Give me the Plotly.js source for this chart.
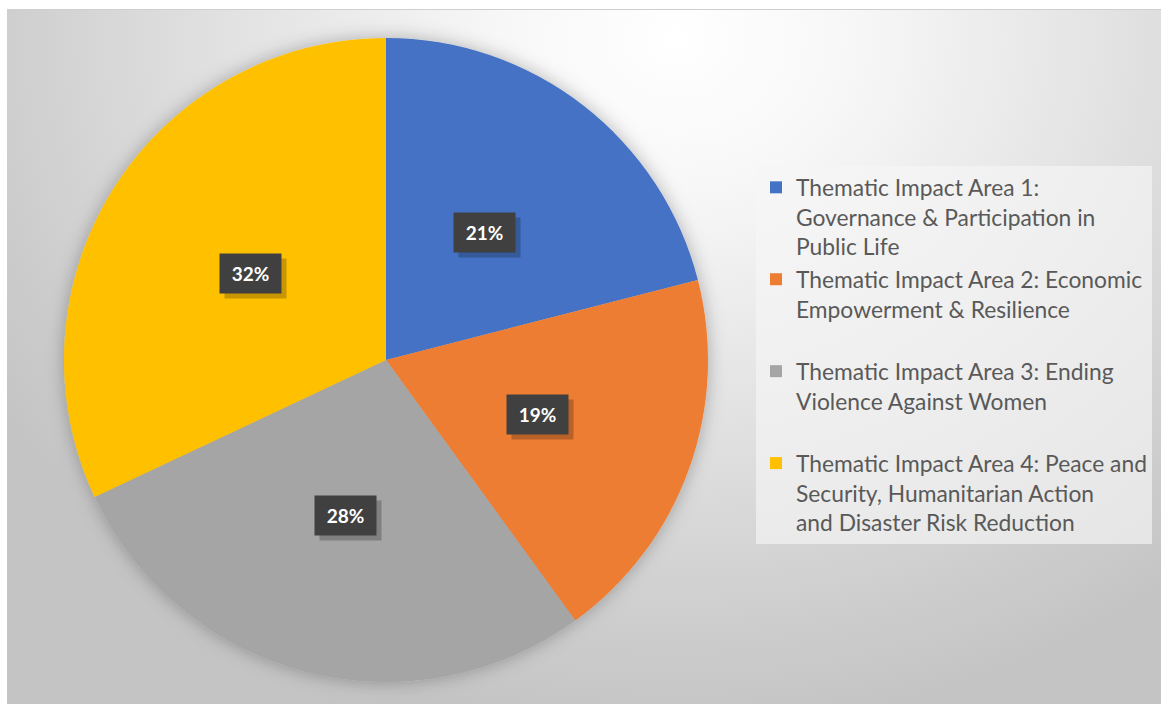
<!DOCTYPE html>
<html>
<head>
<meta charset="utf-8">
<script src="https://cdn.plot.ly/plotly-3.0.1.min.js"></script>
<style>
  html, body { margin: 0; padding: 0; background: #ffffff; }
  #wrap {
    position: absolute; left: 7px; top: 9px; width: 1154px; height: 695px;
    background: radial-gradient(ellipse 70% 100% at 58% 4%, #ffffff 0%, #f7f7f7 22%, #e2e2e2 55%, #cdcdcd 85%, #c4c4c4 100%);
    border-top: 1px solid #cfcfcf;
    box-sizing: border-box;
  }
  #chart { width: 1154px; height: 694px; }
</style>
</head>
<body>
<div id="wrap"><div id="chart"></div></div>
<script>
// ---- data ----
const categories = [
  "Thematic Impact Area 1:<br>Governance & Participation in<br>Public Life",
  "Thematic Impact Area 2: Economic<br>Empowerment & Resilience<br> ",
  "Thematic Impact Area 3: Ending<br>Violence Against Women<br> ",
  "Thematic Impact Area 4: Peace and<br>Security, Humanitarian Action<br>and Disaster Risk Reduction"
];
const shares = [21, 19, 28, 32];
const sliceColors = ["#4472C4", "#ED7D31", "#A5A5A5", "#FFC000"];
const pctLabels = ["21%", "19%", "28%", "32%"];

// ---- layout constants ----
const W = 1154, H = 694;
const M = {l: 0, r: 0, t: 28, b: 22};
const plotW = W - M.l - M.r, plotH = H - M.t - M.b;
const domX = [57 / plotW, 701 / plotW];
const R = Math.min((domX[1] - domX[0]) * plotW, plotH) / 2;
const cx = (domX[0] + domX[1]) / 2, cy = 0.5;

const total = shares.reduce((a, b) => a + b, 0);
const annotations = [];
let cum = 0;
shares.forEach((v, i) => {
  const mid = 2 * Math.PI * (cum + v / 2) / total;
  cum += v;
  const xs = 0.5 * R * Math.sin(mid);
  const ys = 0.5 * R * Math.cos(mid);
  // shadow box
  annotations.push({
    x: cx, y: cy, xref: "paper", yref: "paper", showarrow: false,
    xanchor: "center", yanchor: "middle",
    xshift: xs + 5, yshift: ys - 5,
    text: " ", width: 61, height: 39, borderpad: 0,
    bgcolor: "rgba(0,0,0,0.22)"
  });
  annotations.push({
    x: cx, y: cy, xref: "paper", yref: "paper", showarrow: false,
    xanchor: "center", yanchor: "middle",
    xshift: xs, yshift: ys,
    text: "<b>" + pctLabels[i] + "</b>", width: 61, height: 39, borderpad: 0,
    bgcolor: "#404040",
    font: {family: "Lato, 'Open Sans', sans-serif", size: 19, color: "#ffffff"}
  });
});

const trace = {
  type: "pie",
  labels: categories,
  values: shares,
  sort: false,
  direction: "clockwise",
  rotation: 0,
  marker: {colors: sliceColors, line: {width: 0}},
  textinfo: "none",
  hoverinfo: "label+percent",
  domain: {x: domX, y: [0, 1]}
};

const layout = {
  width: W, height: H,
  margin: M,
  paper_bgcolor: "rgba(0,0,0,0)",
  plot_bgcolor: "rgba(0,0,0,0)",
  showlegend: true,
  legend: {
    x: (756 - 7) / plotW, xanchor: "left",
    y: 1 - (165 - 9 - M.t) / plotH, yanchor: "top",
    bgcolor: "rgba(246,246,246,0.65)",
    font: {family: "Lato, 'Open Sans', sans-serif", size: 22.8, color: "#595959"},
    valign: "top",
    traceorder: "normal"
  },
  annotations: annotations
};

Plotly.newPlot("chart", [trace], layout, {displayModeBar: false, staticPlot: true}).then(gd => {
  const ns = "http://www.w3.org/2000/svg";
  const svg = gd.querySelector("svg.main-svg");
  let defs = svg.querySelector("defs");
  if (!defs) { defs = document.createElementNS(ns, "defs"); svg.insertBefore(defs, svg.firstChild); }
  const f = document.createElementNS(ns, "filter");
  f.setAttribute("id", "pieGlow");
  f.setAttribute("x", "-20%"); f.setAttribute("y", "-20%");
  f.setAttribute("width", "140%"); f.setAttribute("height", "140%");
  const ds = document.createElementNS(ns, "feDropShadow");
  ds.setAttribute("dx", "0"); ds.setAttribute("dy", "0");
  ds.setAttribute("stdDeviation", "9");
  ds.setAttribute("flood-color", "#000");
  ds.setAttribute("flood-opacity", "0.28");
  f.appendChild(ds);
  defs.appendChild(f);
  const pl = gd.querySelector(".pielayer");
  if (pl) pl.setAttribute("filter", "url(#pieGlow)");
});
</script>
</body>
</html>
